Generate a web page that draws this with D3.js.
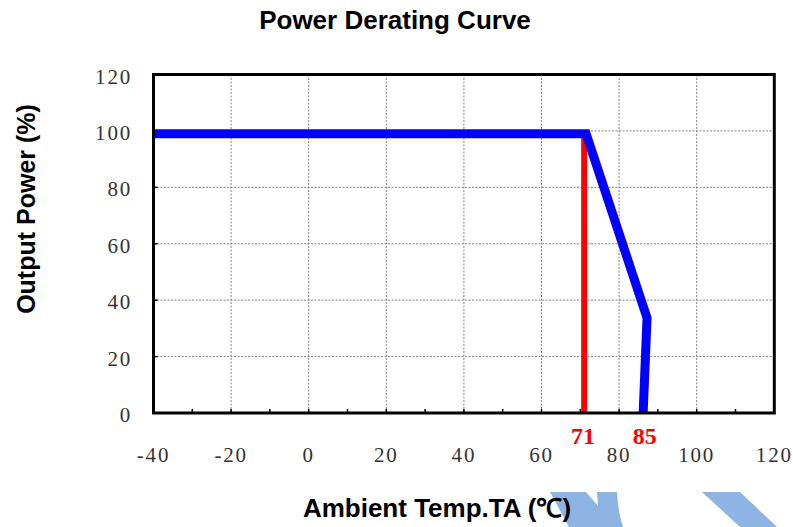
<!DOCTYPE html>
<html>
<head>
<meta charset="utf-8">
<script src="https://cdn.jsdelivr.net/npm/d3@7"></script>
<style>
  html, body { margin: 0; padding: 0; background: #fff; }
  svg { display: block; }
</style>
</head>
<body>
<svg id="chart" width="793" height="527"></svg>
<script>
// data
var xTicks = [-40, -20, 0, 20, 40, 60, 80, 100, 120];
var yTicks = [0, 20, 40, 60, 80, 100, 120];
var minorTicks = [-30, -10, 10, 30, 50, 70, 90, 110];
var curveTemp = [-40, 71.5, 87.2, 86.2];
var curvePower = [99, 99, 33.7, 0];
var markTemp = 71;
var markPower = 99;
var labelText = ["71", "85"];
var labelTemp = [70.7, 86.6];

(function() {
var svg = d3.select("#chart");
var pLeft = 153.5, pRight = 774.3, pTop = 74.5, pBottom = 413;

var x = d3.scaleLinear().domain([-40, 120]).range([pLeft, pRight]);
var y = d3.scaleLinear().domain([0, 120]).range([pBottom, pTop]);

// watermark behind everything (logo fragment at the bottom)
var wm = svg.append("g").attr("fill", "#8db4e2");
wm.append("path").attr("d", "M550,492 L586,492 L598,506 L597,492 L617,492 Q618,512 623,527 L569,527 Z");
wm.append("path").attr("d", "M702,492 L740,492 L777,527 L740,527 Z");

// grid
var grid = svg.append("g")
  .attr("stroke", "#666")
  .attr("stroke-width", 0.8)
  .attr("stroke-dasharray", "2,1.5");

grid.selectAll("line.v")
  .data(xTicks.slice(1, -1))
  .enter().append("line")
  .attr("x1", function(d) { return x(d); })
  .attr("x2", function(d) { return x(d); })
  .attr("y1", pTop)
  .attr("y2", pBottom);

grid.selectAll("line.h")
  .data(yTicks.slice(1, -1))
  .enter().append("line")
  .attr("x1", pLeft)
  .attr("x2", pRight)
  .attr("y1", function(d) { return y(d); })
  .attr("y2", function(d) { return y(d); });

// inward ticks
var ticks = svg.append("g").attr("stroke", "#000").attr("stroke-width", 1.5);
ticks.selectAll("line.bx")
  .data(xTicks.slice(1, -1).concat(minorTicks))
  .enter().append("line")
  .attr("x1", function(d) { return x(d); })
  .attr("x2", function(d) { return x(d); })
  .attr("y1", pBottom)
  .attr("y2", pBottom - 4);
ticks.selectAll("line.ly")
  .data(yTicks.slice(1, -1))
  .enter().append("line")
  .attr("x1", pLeft)
  .attr("x2", pLeft + 4)
  .attr("y1", function(d) { return y(d); })
  .attr("y2", function(d) { return y(d); });

// red marker at 71
svg.append("line")
  .attr("x1", x(markTemp)).attr("x2", x(markTemp))
  .attr("y1", y(0)).attr("y2", y(markPower))
  .attr("stroke", "#ff0000")
  .attr("stroke-width", 6);

// derating curve
var line = d3.line()
  .x(function(d, i) { return x(curveTemp[i]); })
  .y(function(d, i) { return y(curvePower[i]); });

svg.append("path")
  .attr("d", line(curveTemp))
  .attr("fill", "none")
  .attr("stroke", "#0000ff")
  .attr("stroke-width", 9)
  .attr("stroke-linejoin", "miter");

// frame
svg.append("rect")
  .attr("x", pLeft).attr("y", pTop)
  .attr("width", pRight - pLeft).attr("height", pBottom - pTop)
  .attr("fill", "none")
  .attr("stroke", "#000")
  .attr("stroke-width", 3);

// tick labels
svg.selectAll("text.xt")
  .data(xTicks)
  .enter().append("text")
  .attr("x", function(d) { return x(d); })
  .attr("y", 462)
  .attr("text-anchor", "middle")
  .attr("font-family", "Liberation Serif, serif")
  .attr("font-size", 21)
  .attr("letter-spacing", 1.8)
  .attr("fill", "#333")
  .text(function(d) { return d; });

svg.selectAll("text.yt")
  .data(yTicks)
  .enter().append("text")
  .attr("x", 132)
  .attr("y", function(d) { return y(d) + 9; })
  .attr("text-anchor", "end")
  .attr("font-family", "Liberation Serif, serif")
  .attr("font-size", 21)
  .attr("letter-spacing", 1.8)
  .attr("fill", "#333")
  .text(function(d) { return d; });

// red labels
svg.selectAll("text.lab")
  .data(labelText)
  .enter().append("text")
  .attr("x", function(d, i) { return x(labelTemp[i]); })
  .attr("y", 444)
  .attr("text-anchor", "middle")
  .attr("font-family", "Liberation Serif, serif")
  .attr("font-weight", "bold")
  .attr("font-size", 24)
  .attr("fill", "#ff0000")
  .text(function(d) { return d; });

// titles
svg.append("text")
  .attr("x", 395).attr("y", 29)
  .attr("text-anchor", "middle")
  .attr("font-family", "Liberation Sans, Arial, sans-serif")
  .attr("font-weight", "bold")
  .attr("font-size", 26)
  .text("Power Derating Curve");

svg.append("text")
  .attr("transform", "translate(35,209) rotate(-90)")
  .attr("text-anchor", "middle")
  .attr("font-family", "Liberation Sans, Arial, sans-serif")
  .attr("font-weight", "bold")
  .attr("font-size", 25)
  .text("Output Power (%)");

svg.append("text")
  .attr("x", 437).attr("y", 517)
  .attr("text-anchor", "middle")
  .attr("font-family", "Liberation Sans, Arial, sans-serif")
  .attr("font-weight", "bold")
  .attr("font-size", 26)
  .text("Ambient Temp.TA (℃)");
})();
</script>
</body>
</html>
